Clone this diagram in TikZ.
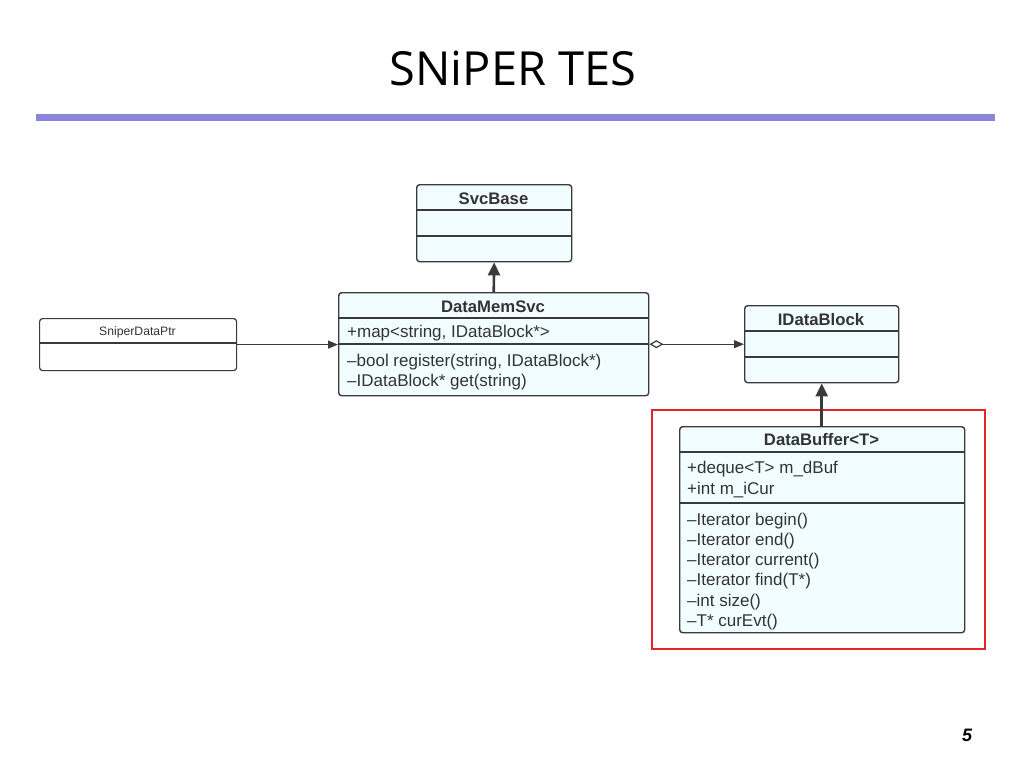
\documentclass[tikz,border=0pt]{standalone}
\usepackage{fontspec}
\setmainfont{Liberation Sans}
\newfontfamily\titlefont{Open Sans}
\usetikzlibrary{arrows.meta}
\definecolor{boxfill}{HTML}{F1FDFE}
\definecolor{boxline}{HTML}{3A3A3A}
\definecolor{txt}{HTML}{333333}
\definecolor{rule}{HTML}{8B86DA}
\definecolor{hl}{HTML}{E0262A}
\tikzset{
  cls/.style={draw=boxline, line width=1.4pt, fill=boxfill, rounded corners=3pt, anchor=north west, inner sep=0pt},
  plain/.style={draw=boxline, line width=1.2pt, fill=white, rounded corners=3pt, anchor=north west, inner sep=0pt},
  divider/.style={draw=boxline, line width=1.3pt},
  ttl/.style={font=\fontsize{16.7}{19}\selectfont\bfseries, text=txt, inner sep=0pt, yshift=-1pt},
  mem/.style={font=\fontsize{17}{20}\selectfont, text=txt, inner sep=0pt, anchor=west, yshift=-1.5pt},
  inh/.style={draw=boxline, line width=2.6pt, -{Triangle[length=13pt,width=12pt]}},
  assoc/.style={draw=boxline, line width=1.2pt, -{Triangle[length=10pt,width=8pt]}},
}
\begin{document}
\begin{tikzpicture}[x=1pt,y=-1pt]
\useasboundingbox (0,0) rectangle (1024,768);
% title
\node[font=\titlefont\fontsize{47}{56}\selectfont, inner sep=0pt] (title) at (513,68) {SNiPER TES};
\draw[rule, line width=7pt] (36,117) -- (995,117);
% SvcBase
\node[cls, minimum width=155pt, minimum height=77pt] (svc) at (416,184) {};
\draw[divider] (416,210) -- (571,210);
\draw[divider] (416,236) -- (571,236);
\node[ttl] (svct) at (493.5,198) {SvcBase};
% DataMemSvc
\node[cls, minimum width=310pt, minimum height=103pt] (dms) at (338,292) {};
\draw[divider] (338,318) -- (648,318);
\draw[divider] (338,344) -- (648,344);
\node[ttl] (dmst) at (493,306) {DataMemSvc};
\node[mem] (dms1) at (347,332) {+map<string, IDataBlock*>};
\node[mem] (dms2) at (347,361) {--bool register(string, IDataBlock*)};
\node[mem] (dms3) at (347,381) {--IDataBlock* get(string)};
% SniperDataPtr
\node[plain, minimum width=197pt, minimum height=52pt] (sdp) at (39,318) {};
\draw[boxline, line width=1.1pt] (39,343) -- (236,343);
\node[font=\fontsize{12.2}{14}\selectfont, text=txt, inner sep=0pt] (sdpt) at (137.5,332) {SniperDataPtr};
% IDataBlock
\node[cls, minimum width=154pt, minimum height=77pt] (idb) at (744,305) {};
\draw[divider] (744,331) -- (898,331);
\draw[divider] (744,357) -- (898,357);
\node[ttl] (idbt) at (821,319) {IDataBlock};
% DataBuffer
\node[cls, minimum width=285pt, minimum height=206pt] (dbf) at (679,426) {};
\draw[divider] (679,452) -- (964,452);
\draw[divider] (679,503) -- (964,503);
\node[ttl] (dbft) at (821.5,439) {DataBuffer<T>};
\node[mem] (a1) at (687,468) {+deque<T> m\_dBuf};
\node[mem] (a2) at (687,489) {+int m\_iCur};
\node[mem] (m1) at (687,520) {--Iterator begin()};
\node[mem] (m2) at (687,540) {--Iterator end()};
\node[mem] (m3) at (687,560) {--Iterator current()};
\node[mem] (m4) at (687,580) {--Iterator find(T*)};
\node[mem] (m5) at (687,601) {--int size()};
\node[mem] (m6) at (687,621) {--T* curEvt()};
% highlight
\draw[hl, line width=1.5pt] (652,410) rectangle (985,649);
% connectors
\draw[inh] (dms.north) -- (svc.south);
\draw[inh] (dbf.north -| idb.south) -- (idb.south);
\draw[assoc] (sdp.east) -- (sdp.east -| dms.west);
\draw[boxline, line width=1.2pt, {Diamond[open,length=14pt,width=8pt]}-{Triangle[length=10pt,width=8pt]}] (idb.west -| dms.east) -- (idb.west);
% page number
\node[font=\fontsize{18}{20}\selectfont\bfseries\itshape, inner sep=0pt] (pn) at (967,735) {5};
\end{tikzpicture}
\end{document}
